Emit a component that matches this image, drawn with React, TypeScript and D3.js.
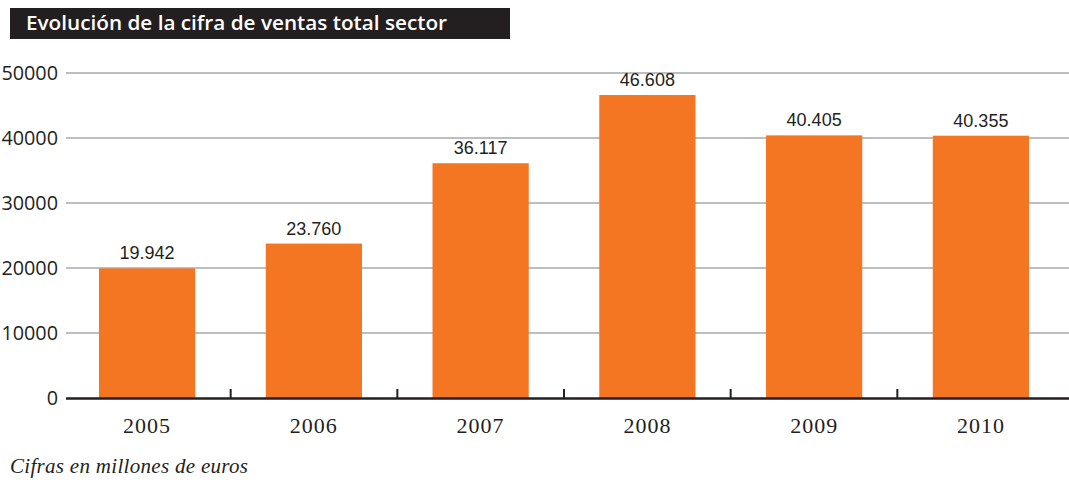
import React from "react";
import * as d3 from "d3";

const years = ["2005", "2006", "2007", "2008", "2009", "2010"];
const sales = [19942, 23760, 36117, 46608, 40405, 40355];
const valueLabels = ["19.942", "23.760", "36.117", "46.608", "40.405", "40.355"];
const yTicks = [0, 10000, 20000, 30000, 40000, 50000];

const W = 1069;
const H = 482;

export default function App() {
  const x = d3.scaleBand<string>().domain(years).range([64, 1064]).paddingInner(0.423).paddingOuter(0.21);
  const xStep = d3.scaleBand<string>().domain(years).range([64, 1064]);
  const y = d3.scaleLinear().domain([0, 50000]).range([398, 73]);
  const orange = "#F47522";
  const dark = "#231F20";

  return (
    <svg width={W} height={H} style={{ position: "absolute", left: 0, top: 0 }}>
      <rect x={0} y={0} width={W} height={H} fill="#fff" />
      <rect x={10} y={8} width={500} height={31} fill={dark} />
      <text x={26} y={30} fill="#fff" fontFamily="'Open Sans', sans-serif" fontWeight={600} fontSize={19} textLength={421} lengthAdjust="spacingAndGlyphs">
        Evolución de la cifra de ventas total sector
      </text>

      {yTicks.map((t) => (
        <g key={t}>
          {t > 0 && <line x1={66} x2={W} y1={y(t)} y2={y(t)} stroke="#A7A9AC" strokeWidth={1.5} />}
          <text x={58} y={y(t) + 7} textAnchor="end" fontFamily="'Open Sans', sans-serif" fontSize={19.8} fill={dark}>
            {t}
          </text>
        </g>
      ))}

      {years.map((yr, i) => (
        <g key={yr}>
          <rect x={x(yr)} y={y(sales[i])} width={x.bandwidth()} height={y(0) - y(sales[i])} fill={orange} />
          <text
            x={(x(yr) as number) + x.bandwidth() / 2}
            y={y(sales[i]) - 9}
            textAnchor="middle"
            fontFamily="'Liberation Sans', Arial, sans-serif"
            fontSize={18}
            fill={dark}
          >
            {valueLabels[i]}
          </text>
          <text
            x={(x(yr) as number) + x.bandwidth() / 2}
            y={433}
            textAnchor="middle"
            fontFamily="'Liberation Serif', serif"
            fontSize={22}
            letterSpacing={1}
            fill={dark}
          >
            {yr}
          </text>
        </g>
      ))}

      <line x1={66} x2={W} y1={398.5} y2={398.5} stroke={dark} strokeWidth={2.5} />
      {years.slice(1).map((yr) => (
        <line key={yr} x1={xStep(yr)} x2={xStep(yr)} y1={389} y2={398} stroke={dark} strokeWidth={2} />
      ))}

      <text x={10} y={473} fontFamily="'Liberation Serif', serif" fontStyle="italic" fontSize={21} letterSpacing={0.3} fill={dark}>
        Cifras en millones de euros
      </text>
    </svg>
  );
}
